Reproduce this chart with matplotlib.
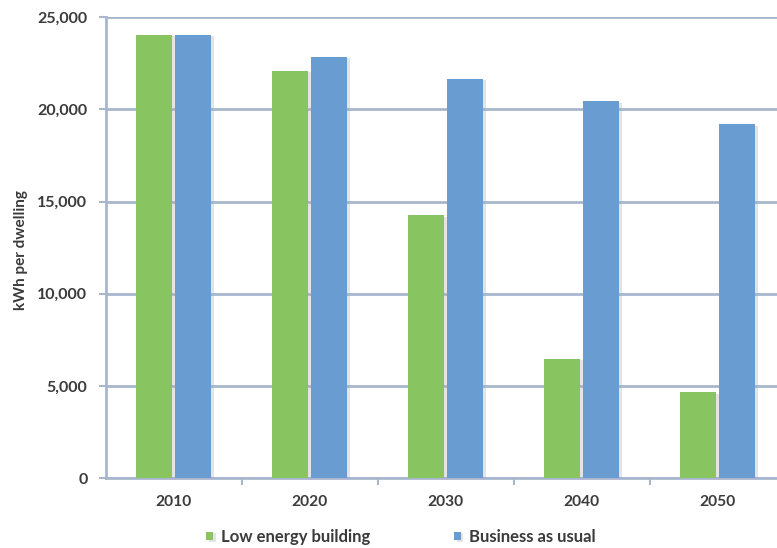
import matplotlib
matplotlib.use("Agg")
import matplotlib.pyplot as plt
import matplotlib.patheffects as pe
import numpy as np

years = ["2010", "2020", "2030", "2040", "2050"]
low_energy = [24050, 22080, 14250, 6480, 4660]
business_as_usual = [24050, 22840, 21650, 20450, 19200]
y_ticks = [0, 5000, 10000, 15000, 20000, 25000]

green = "#88C45F"
blue = "#699DD2"
grid_col = "#A9B7CE"
text_col = "#3B3B3B"

plt.rcParams["font.family"] = ["Lato", "DejaVu Sans"]

W, H = 777, 548
fig = plt.figure(figsize=(W / 100, H / 100), dpi=100)
# axes run a little past the right edge of the figure
ax = fig.add_axes([105.5 / W, 70 / H, 680 / W, 460.7 / H])

x = np.arange(len(years))
width = 0.265
offset = 0.143
shadow = [pe.SimplePatchShadow(offset=(2, -1), shadow_rgbFace="#a8a8a8", alpha=0.3), pe.Normal()]

b1 = ax.bar(x - offset, low_energy, width, color=green, zorder=3,
            label="Low energy building")
b2 = ax.bar(x + offset, business_as_usual, width, color=blue, zorder=3,
            label="Business as usual")
for bar in list(b1) + list(b2):
    bar.set_path_effects(shadow)

ax.set_xlim(-0.5, 4.5)
ax.set_ylim(0, 25000)
ax.set_yticks(y_ticks)
ax.set_yticklabels([f"{v:,}" for v in y_ticks])
ax.yaxis.grid(True, color=grid_col, linewidth=2, zorder=0)
ax.set_axisbelow(True)

ax.set_xticks(x)
ax.set_xticklabels(years)
ax.set_xticks(np.arange(0.5, 4.5, 1), minor=True)
ax.tick_params(axis="x", which="major", length=0, pad=12)
ax.tick_params(axis="x", which="minor", length=5, width=1.5, color=grid_col)
ax.tick_params(axis="y", length=5, width=1.5, color=grid_col, pad=8)
for lab in ax.get_xticklabels():
    lab.set_fontsize(11.2)
    lab.set_fontweight("bold")
    lab.set_color(text_col)
for lab in ax.get_yticklabels():
    lab.set_fontsize(11.5)
    lab.set_fontweight("bold")
    lab.set_color(text_col)

for side in ["top", "right"]:
    ax.spines[side].set_visible(False)
for side in ["left", "bottom"]:
    ax.spines[side].set_color(grid_col)
    ax.spines[side].set_linewidth(2)

fig.text(21 / W, 1 - 250 / H, "kWh per dwelling", rotation=90, ha="center",
         va="center", fontsize=11, fontweight="bold", color=text_col)

fig.legend(handles=[b1, b2], loc="center", bbox_to_anchor=(401 / W, 11 / H),
           ncol=2, frameon=False, handlelength=0.4, handleheight=0.4,
           handletextpad=0.5, columnspacing=5.0,
           prop={"size": 12, "weight": "bold"}, labelcolor=text_col)

fig.savefig("out.png", dpi=100)
